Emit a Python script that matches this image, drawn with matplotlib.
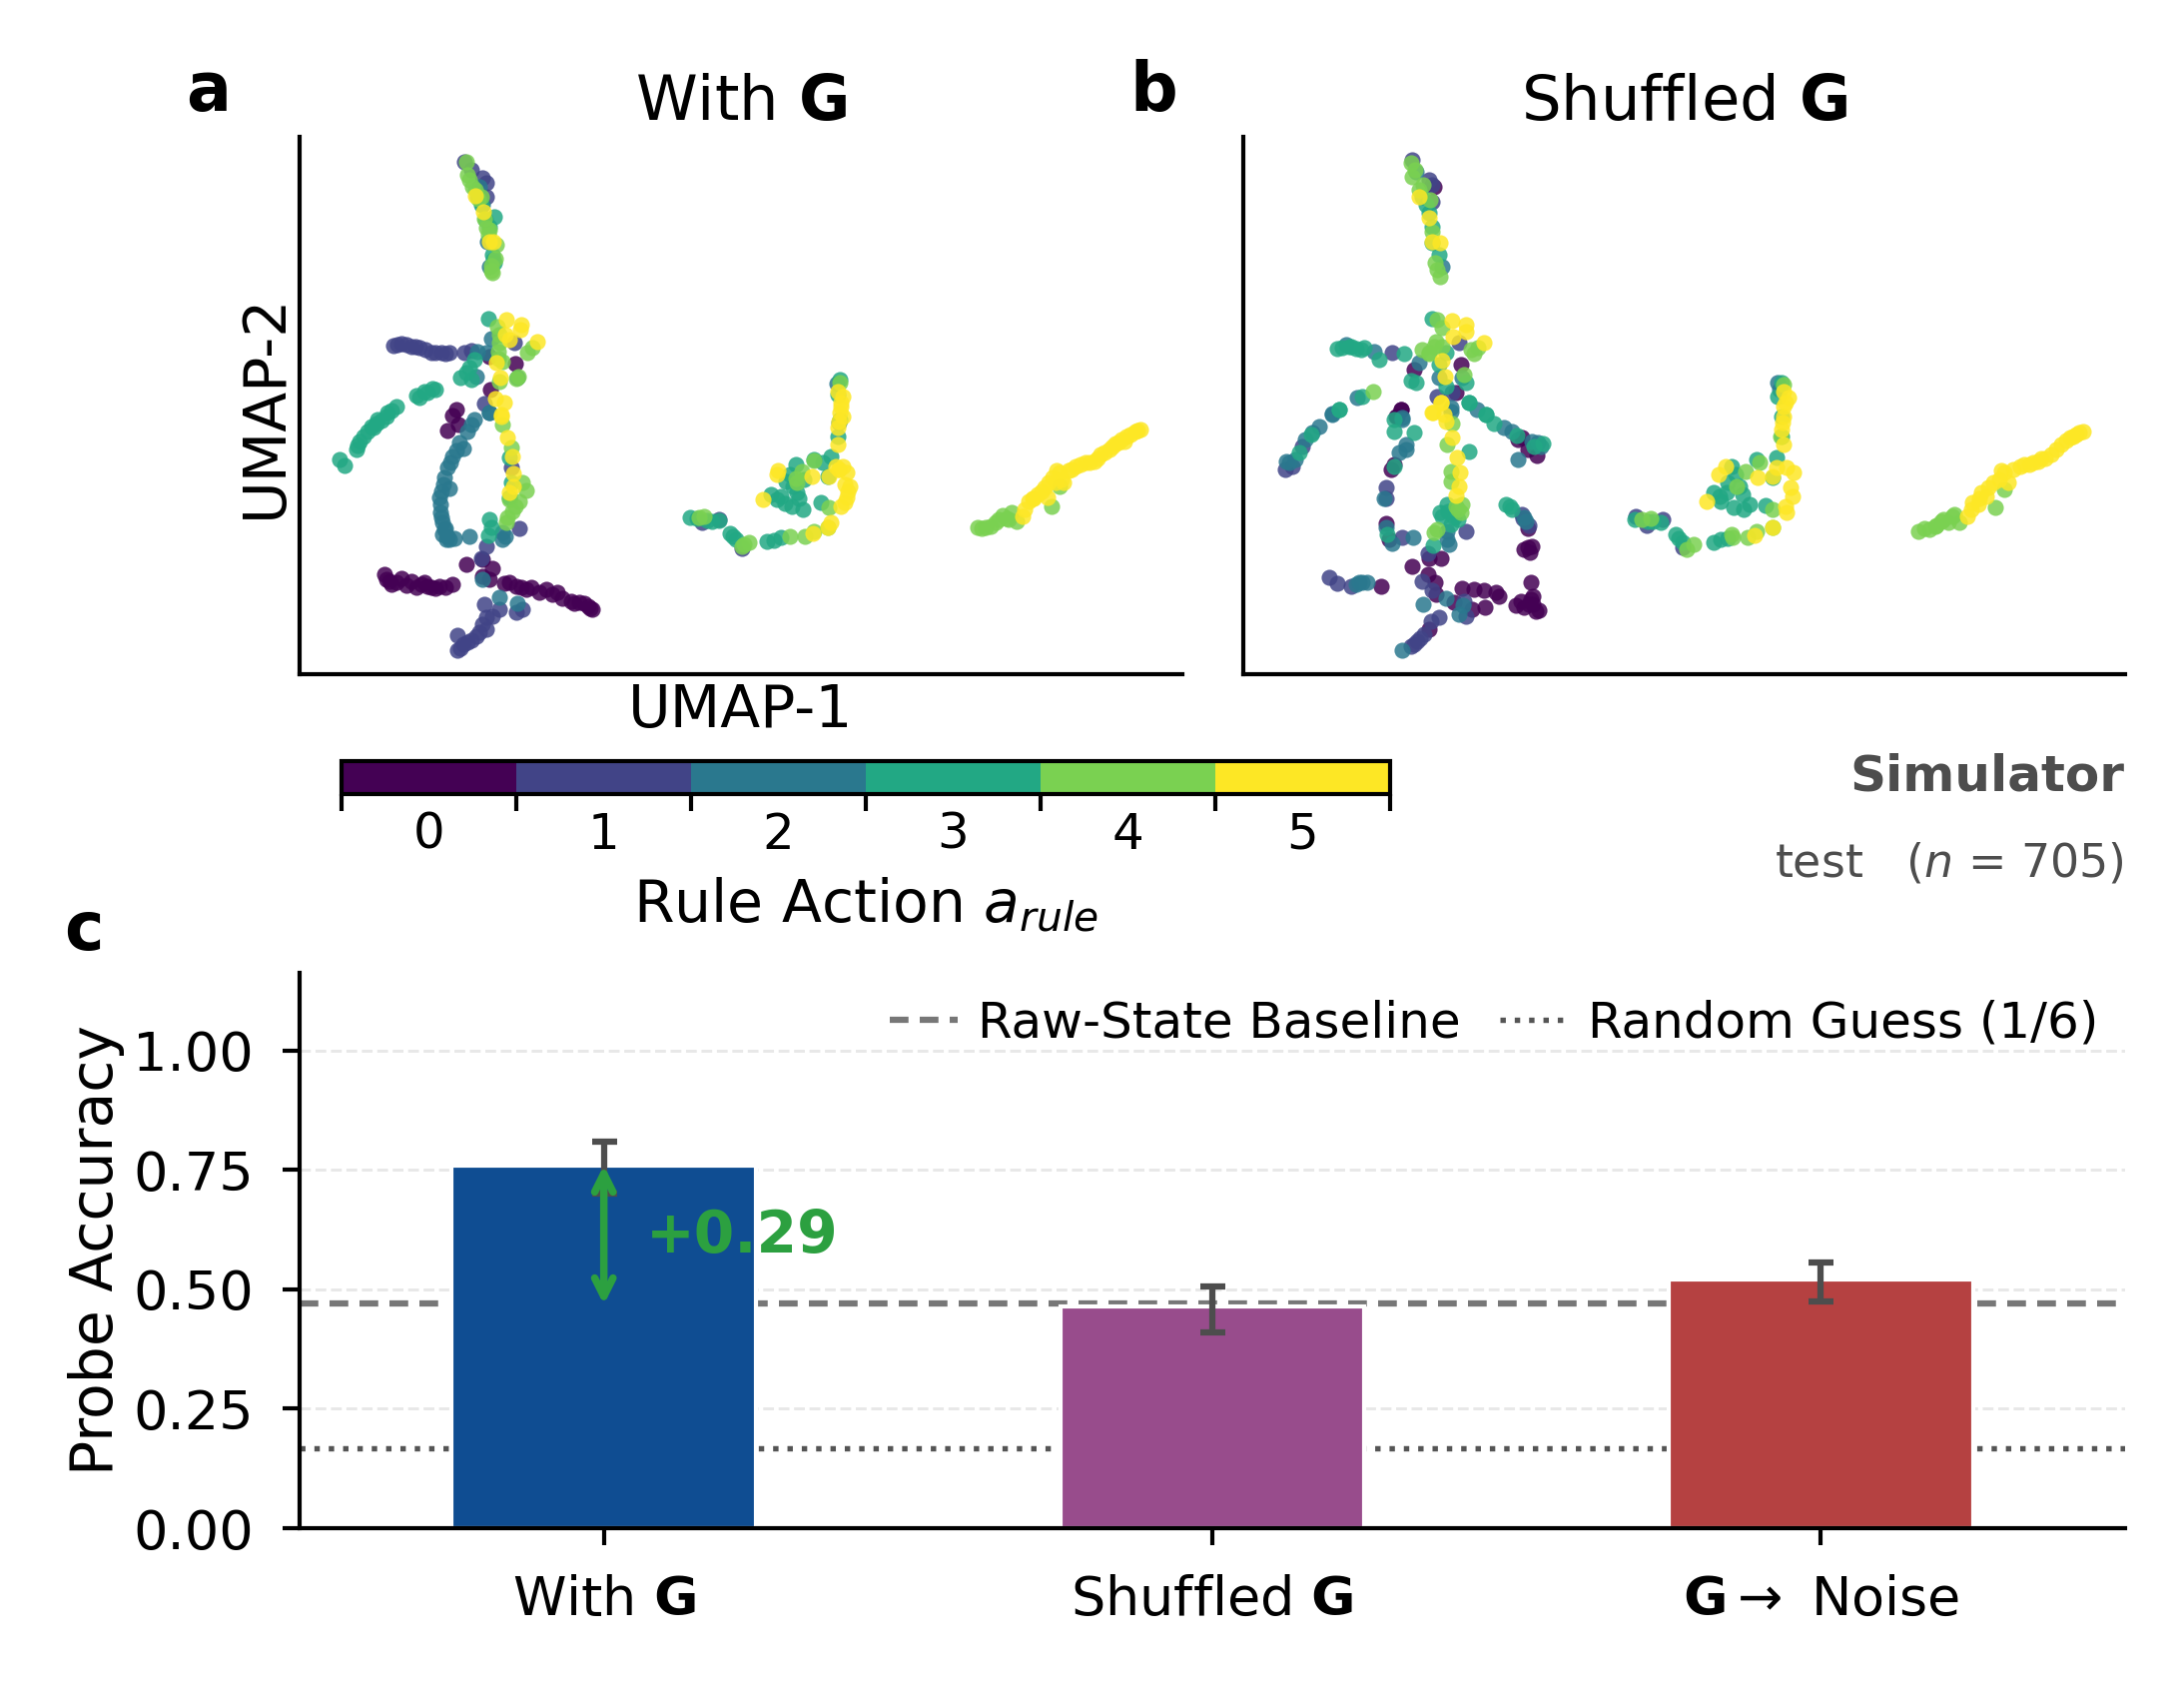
import numpy as np
import matplotlib
matplotlib.use("Agg")
import matplotlib.pyplot as plt
from matplotlib.colors import BoundaryNorm
from matplotlib.cm import ScalarMappable

# UMAP embedding, one x/y pair of lists per rule action
A_X = {
    0: [190, 216, 191, 157, 153, 148, 85, 87, 97, 107, 117, 125, 132, 140, 153, 167, 183, 193, 183, 190, 205, 217, 227, 232, 247, 253, 263, 275, 285, 293, 159, 146, 112, 102, 92, 210, 240, 272, 280, 90, 122, 128, 136, 222, 258, 289, 291],
    1: [165, 172, 187, 183, 187, 94, 102, 112, 120, 132, 142, 150, 165, 172, 215, 185, 220, 187, 182, 185, 200, 193, 187, 217, 223, 187, 177, 168, 158, 158, 212, 164, 172, 180, 98, 107, 116, 126, 136, 146, 183, 161],
    2: [180, 190, 188, 183, 178, 187, 192, 177, 218, 190, 175, 168, 160, 153, 148, 145, 142, 140, 141, 143, 143, 147, 155, 170, 203, 203, 190, 183, 200, 218, 172, 164, 150, 146, 148, 157, 151, 144, 141, 142, 145, 150, 206],
    3: [182, 193, 195, 190, 189, 161, 170, 175, 172, 167, 133, 125, 117, 97, 88, 78, 87, 77, 68, 60, 57, 40, 45, 92, 72, 64, 190, 192, 189, 210, 212, 210, 120, 136, 82, 58, 74, 128, 195, 194, 178, 186],
    4: [167, 168, 173, 182, 187, 190, 197, 192, 193, 198, 200, 199, 203, 200, 219, 228, 233, 203, 212, 223, 227, 220, 213, 208, 207, 200, 216, 199, 217, 210, 170, 176, 179, 185, 189, 192, 196],
    5: [176, 184, 190, 194, 207, 222, 221, 206, 210, 238, 197, 201, 196, 205, 202, 202, 208, 213, 214, 214, 210],
}
A_Y = {
    0: [318, 311, 285, 265, 259, 244, 100, 95, 92, 89, 87, 92, 87, 88, 90, 110, 115, 106, 98, 95, 91, 88, 85, 87, 85, 80, 76, 71, 71, 65, 250, 87, 93, 96, 90, 92, 82, 73, 72, 93, 90, 88, 86, 87, 82, 68, 66],
    1: [513, 505, 492, 497, 478, 329, 331, 328, 327, 322, 322, 322, 322, 324, 332, 271, 146, 128, 116, 70, 65, 58, 57, 62, 65, 45, 38, 32, 24, 39, 207, 30, 34, 42, 330, 330, 328, 325, 322, 321, 50, 26],
    2: [488, 408, 433, 470, 323, 322, 336, 298, 297, 262, 255, 243, 232, 218, 207, 197, 183, 177, 162, 152, 140, 135, 136, 138, 142, 135, 262, 95, 77, 71, 250, 226, 186, 146, 138, 224, 212, 190, 170, 157, 145, 135, 138],
    3: [470, 420, 412, 448, 356, 297, 307, 315, 295, 302, 286, 283, 279, 268, 262, 255, 258, 251, 243, 233, 225, 215, 209, 264, 248, 238, 155, 147, 139, 217, 192, 177, 277, 285, 254, 229, 247, 282, 458, 415, 478, 455],
    4: [513, 500, 488, 478, 447, 445, 430, 409, 402, 348, 332, 323, 313, 293, 298, 322, 327, 250, 227, 192, 184, 173, 163, 157, 152, 340, 168, 316, 296, 175, 495, 485, 476, 456, 440, 404, 416],
    5: [479, 463, 433, 433, 355, 350, 345, 340, 335, 333, 312, 297, 276, 272, 260, 258, 237, 218, 201, 188, 182],
}
A_X[2] += [538, 540]; A_Y[2] += [291, 252]
A_X[1] += [443, 403, 420]; A_Y[1] += [126, 152, 155]
A_X[3] += [541, 539, 541, 539, 515, 532, 491, 487, 498, 472, 478, 482, 493, 522, 529, 391, 413, 420, 431, 437, 468, 475, 482, 497, 504, 398, 408, 505, 494, 486, 500, 434, 524]
A_Y[3] += [295, 280, 255, 238, 215, 218, 200, 193, 182, 180, 175, 178, 168, 172, 198, 157, 153, 154, 141, 135, 133, 134, 137, 210, 165, 156, 154, 195, 188, 171, 176, 138, 212]
A_X[4] += [541, 515, 503, 498, 530, 400, 405, 443, 450, 491, 506, 515, 529, 679, 687, 697, 704, 713, 718, 753, 761, 692, 708, 683, 700, 710, 497, 445]
A_Y[4] += [292, 214, 203, 192, 167, 157, 158, 128, 132, 138, 138, 143, 147, 147, 147, 152, 159, 162, 153, 168, 188, 148, 156, 146, 155, 155, 196, 130]
A_X[5] += [539, 544, 542, 541, 540, 539, 539, 479, 513, 537, 544, 548, 530, 549, 548, 542, 464, 514, 532, 529, 478, 540, 546, 724, 730, 739, 749, 746, 754, 761, 765, 777, 787, 796, 802, 811, 823, 832, 842, 735, 757, 770, 806, 817, 828, 837, 542, 544, 726, 734, 743, 750, 758, 763, 773, 782, 791, 799, 814, 820, 826, 839, 551, 546, 540]
A_Y[5] += [283, 278, 268, 262, 253, 247, 230, 204, 198, 208, 208, 202, 198, 183, 177, 168, 175, 141, 152, 147, 200, 205, 190, 158, 173, 180, 177, 187, 197, 202, 192, 208, 212, 213, 220, 225, 235, 240, 245, 176, 192, 204, 222, 231, 238, 243, 272, 258, 165, 176, 183, 192, 204, 195, 205, 210, 212, 216, 228, 232, 233, 244, 188, 172, 205]

B_X = {
    0: [191, 171, 218, 213, 158, 154, 158, 153, 151, 148, 143, 146, 279, 294, 285, 287, 288, 288, 281, 293, 273, 285, 198, 186, 169, 185, 192, 193, 211, 219, 231, 241, 253, 256, 229, 242, 186, 138, 275, 285, 290, 281, 289, 290, 286, 296, 278],
    1: [169, 186, 189, 189, 149, 216, 194, 209, 59, 49, 143, 159, 286, 279, 223, 185, 179, 189, 223, 221, 196, 188, 181, 174, 168, 86, 94, 108, 143, 42, 171, 177, 280],
    2: [173, 199, 103, 131, 176, 196, 219, 114, 89, 208, 159, 89, 76, 69, 46, 43, 159, 163, 156, 141, 143, 149, 170, 234, 261, 269, 289, 298, 283, 204, 208, 204, 203, 220, 216, 159, 113, 124, 52, 62, 275, 180, 281, 295, 116, 119, 163, 206],
    3: [183, 189, 196, 189, 189, 99, 113, 121, 136, 161, 168, 173, 203, 196, 203, 223, 119, 96, 226, 243, 96, 68, 56, 151, 171, 151, 144, 226, 243, 251, 274, 291, 269, 263, 226, 204, 199, 208, 211, 190, 106, 151, 197, 205, 215, 94, 108, 118, 267, 300, 179, 186],
    4: [168, 169, 176, 189, 192, 194, 197, 194, 199, 193, 179, 186, 191, 231, 221, 130, 209, 204, 208, 208, 213, 218, 191, 219, 194, 186, 199, 228, 235, 215, 172, 180, 187],
    5: [176, 186, 189, 197, 209, 223, 223, 210, 241, 199, 202, 198, 189, 201, 203, 190, 209, 214, 217, 216, 213, 198],
}
B_Y = {
    0: [488, 305, 310, 282, 265, 258, 265, 258, 210, 205, 151, 135, 237, 219, 127, 122, 92, 75, 67, 63, 69, 146, 116, 116, 108, 100, 92, 80, 72, 86, 85, 84, 82, 78, 65, 67, 45, 88, 235, 225, 78, 125, 128, 70, 70, 64, 73],
    1: [515, 495, 490, 473, 322, 332, 278, 282, 228, 208, 187, 137, 149, 160, 143, 121, 93, 84, 58, 73, 57, 53, 40, 33, 28, 97, 91, 88, 176, 205, 30, 36, 156],
    2: [503, 408, 330, 323, 312, 297, 297, 277, 261, 267, 257, 260, 248, 242, 212, 213, 255, 230, 222, 176, 147, 131, 137, 265, 247, 243, 233, 228, 153, 135, 263, 143, 76, 69, 60, 24, 90, 92, 215, 235, 215, 70, 157, 232, 92, 92, 225, 130],
    3: [470, 448, 420, 432, 356, 327, 326, 327, 315, 321, 294, 292, 322, 310, 288, 292, 278, 265, 272, 260, 265, 240, 222, 243, 242, 208, 140, 272, 260, 251, 239, 228, 165, 170, 223, 170, 158, 150, 157, 129, 328, 255, 162, 163, 155, 326, 328, 325, 168, 231, 478, 462],
    4: [512, 498, 485, 443, 412, 405, 398, 355, 347, 333, 325, 321, 328, 321, 300, 283, 251, 230, 203, 193, 168, 162, 142, 170, 145, 322, 328, 325, 327, 165, 505, 490, 475],
    5: [478, 457, 433, 432, 354, 350, 343, 338, 332, 314, 298, 272, 262, 260, 253, 262, 237, 217, 202, 188, 179, 272],
}
B_X[2] += [536, 538]; B_Y[2] += [292, 285]
B_X[1] += [404, 420, 440, 393]; B_Y[1] += [149, 155, 127, 158]
B_X[3] += [540, 536, 540, 540, 515, 535, 494, 486, 501, 472, 479, 492, 502, 524, 531, 392, 418, 433, 440, 472, 479, 498, 508, 405, 486, 490, 478, 485, 436, 410]
B_Y[3] += [292, 278, 258, 238, 215, 217, 200, 192, 180, 182, 173, 167, 165, 169, 197, 155, 152, 140, 132, 132, 135, 188, 170, 153, 136, 208, 178, 182, 136, 153]
B_X[4] += [542, 539, 518, 504, 495, 531, 399, 408, 445, 452, 491, 506, 531, 677, 688, 702, 711, 718, 754, 763, 695, 707, 515, 683, 694, 700, 713, 490]
B_Y[4] += [290, 238, 212, 203, 188, 165, 155, 156, 125, 130, 137, 137, 147, 143, 145, 155, 158, 152, 167, 185, 149, 152, 143, 146, 148, 153, 160, 140]
B_X[5] += [542, 547, 542, 541, 540, 542, 477, 484, 516, 535, 545, 552, 531, 549, 551, 544, 545, 465, 513, 531, 726, 731, 745, 747, 758, 763, 767, 779, 797, 810, 820, 829, 842, 738, 788, 804, 815, 835, 544, 542, 730, 737, 740, 752, 760, 772, 783, 792, 800, 825, 832, 838]
B_Y[5] += [283, 277, 268, 252, 245, 230, 200, 208, 197, 207, 207, 202, 198, 187, 178, 168, 162, 173, 139, 147, 158, 172, 178, 187, 195, 202, 192, 208, 213, 220, 230, 237, 243, 176, 210, 216, 225, 240, 272, 258, 165, 170, 182, 192, 204, 205, 210, 212, 216, 234, 238, 242]

# probe accuracy bars
BAR_LABELS = [r"With $\mathbf{G}$", r"Shuffled $\mathbf{G}$", r"$\mathbf{G}\rightarrow$ Noise"]
BAR_VALUES = [0.76, 0.465, 0.52]
ERR_LOW = [0.06, 0.054, 0.045]
ERR_HIGH = [0.05, 0.042, 0.037]
BAR_COLORS = ["#0F4D92", "#984C8C", "#B54141"]
BASELINE = 0.47
RANDOM_GUESS = 1 / 6
ACTIONS = [0, 1, 2, 3, 4, 5]

plt.rcParams.update({
    "font.family": "DejaVu Sans", "font.size": 12,
    "mathtext.default": "regular",
    "axes.linewidth": 1.0, "xtick.major.width": 1.0, "ytick.major.width": 1.0,
    "axes.spines.top": False, "axes.spines.right": False,
})

W, H = 2187, 1688
fig = plt.figure(figsize=(W / 300, H / 300), dpi=300)


def box(left, top, right, bottom):
    # pixel edges of the reference -> figure fractions
    return [left / W, 1 - bottom / H, (right - left) / W, (bottom - top) / H]


cmap = plt.get_cmap("viridis", 6)
norm = BoundaryNorm(np.arange(-0.5, 6.5), 6)


def scatter_panel(ax, xs, ys):
    for a in ACTIONS:
        ax.scatter(np.array(xs[a]) / 100, np.array(ys[a]) / 100, s=15, color=cmap(a),
                   alpha=0.85, linewidths=0)
    ax.set_xlim(0, 8.84)
    ax.set_ylim(0, 5.38)
    ax.set_xticks([])
    ax.set_yticks([])


ax_a = fig.add_axes(box(300, 137, 1184, 675))
ax_b = fig.add_axes(box(1245, 137, 2128, 675))
ax_c = fig.add_axes(box(300, 974, 2128, 1530))

scatter_panel(ax_a, A_X, A_Y)
scatter_panel(ax_b, B_X, B_Y)
ax_a.set_title(r"With $\mathbf{G}$", fontsize=15, pad=4)
ax_b.set_title(r"Shuffled $\mathbf{G}$", fontsize=15, pad=4)
ax_a.set_xlabel("UMAP-1", fontsize=14, labelpad=2)
ax_a.set_ylabel("UMAP-2", fontsize=14, labelpad=1.5)

cax = fig.add_axes(box(342, 762, 1392, 795))
cbar = fig.colorbar(ScalarMappable(norm=norm, cmap=cmap), cax=cax, orientation="horizontal")
cbar.set_ticks(np.arange(-0.5, 6.5), labels=[])
cbar.ax.set_xticks(ACTIONS, labels=[str(a) for a in ACTIONS], minor=True)
cbar.ax.tick_params(which="minor", length=0, labelsize=12, pad=4)
cbar.ax.tick_params(which="major", length=4, width=1)
cbar.set_label(r"Rule Action $\mathit{a}_{\mathit{rule}}$", fontsize=14, labelpad=4)

x_pos = np.arange(3)
ax_c.yaxis.grid(True, ls="--", lw=0.7, color="#e8e8e8", zorder=0)
ax_c.set_axisbelow(True)
ax_c.axhline(BASELINE, ls=(0, (3, 1.8)), lw=1.5, color="#777777", zorder=1, label="Raw-State Baseline")
ax_c.axhline(RANDOM_GUESS, ls=(0, (1, 1.65)), lw=1.3, color="#555555", zorder=1, label="Random Guess (1/6)")
ax_c.bar(x_pos, BAR_VALUES, width=0.5, color=BAR_COLORS, edgecolor="white", linewidth=1.0, zorder=2)
ax_c.errorbar(x_pos, BAR_VALUES, yerr=[ERR_LOW, ERR_HIGH], fmt="none", ecolor="#4d4d4d", elinewidth=1.5,
              capsize=3, capthick=1.5, zorder=3)
ax_c.annotate("", xy=(0, 0.76), xytext=(0, BASELINE - 0.002),
              arrowprops=dict(arrowstyle="<->", color="#2CA040", lw=1.8, mutation_scale=11, shrinkA=0, shrinkB=0), zorder=4)
ax_c.text(0.07, 0.612, "+0.29", color="#2CA040", fontsize=14, fontweight="bold", va="center", zorder=5)
ax_c.set_xlim(-0.5, 2.5)
ax_c.set_ylim(0, 1.163)
ax_c.set_yticks([0, 0.25, 0.5, 0.75, 1.0], labels=["0.00", "0.25", "0.50", "0.75", "1.00"])
ax_c.set_xticks(x_pos, labels=BAR_LABELS)
ax_c.tick_params(axis="x", labelsize=13, pad=7, length=4)
ax_c.tick_params(axis="y", labelsize=13, pad=7, length=4)
ax_c.set_ylabel("Probe Accuracy", fontsize=14, labelpad=2)
ax_c.legend(loc="upper right", ncol=2, frameon=False, fontsize=12, columnspacing=0.8, handlelength=1.35,
            handletextpad=0.4, bbox_to_anchor=(0.999, 0.997), borderaxespad=0.1)

fig.text(2127 / W, 1 - 778 / H, "Simulator", ha="right", va="center", fontsize=12, fontweight="bold", color="#4d4d4d")
fig.text(2127 / W, 1 - 865 / H, r"test   ($\mathit{n}$ = 705)", ha="right", va="center", fontsize=11, color="#4d4d4d")
fig.text(186 / W, 1 - 92 / H, "a", fontsize=16, fontweight="bold", va="center")
fig.text(1131 / W, 1 - 92 / H, "b", fontsize=16, fontweight="bold", va="center")
fig.text(64 / W, 1 - 932 / H, "c", fontsize=16, fontweight="bold", va="center")

fig.savefig("out.png", dpi=300)
